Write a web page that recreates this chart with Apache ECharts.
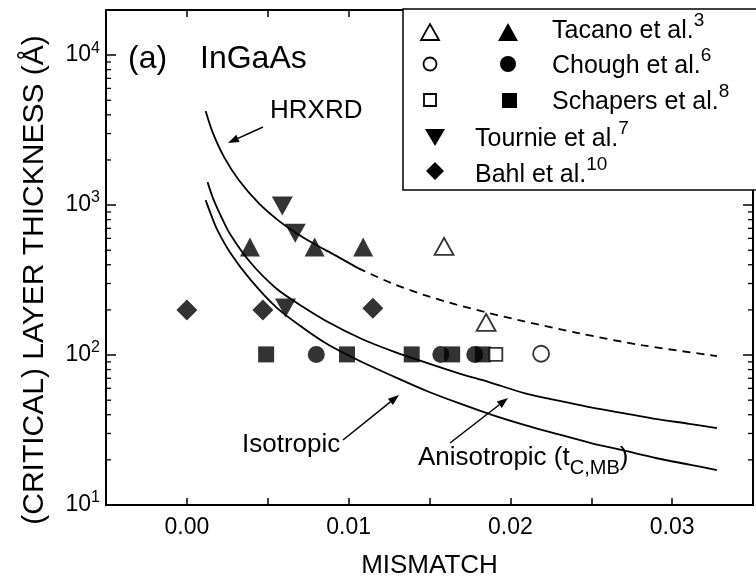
<!DOCTYPE html>
<html><head><meta charset="utf-8">
<script src="https://cdn.jsdelivr.net/npm/echarts@6/dist/echarts.min.js"></script>
<style>html,body{margin:0;padding:0;background:#fff}#c{width:756px;height:584px}</style>
</head><body><div id="c"></div>
<script>
const FONT = '"Liberation Sans", Arial, Helvetica, sans-serif';

// ---- axis ranges / ticks ----
const X_MIN = -0.005, X_MAX = 0.035, X_STEP = 0.005;
const Y_MIN = 10, Y_MAX = 20000;
const xTickLabels = {'0.00': '0.00', '0.01': '0.01', '0.02': '0.02', '0.03': '0.03'};
const yTickLabels = {10: '1', 100: '2', 1000: '3', 10000: '4'};
const yMinorTicks = [20,30,40,50,60,70,80,90,200,300,400,500,600,700,800,900,2000,3000,4000,5000,6000,7000,8000,9000];

// ---- data points [mismatch, thickness (Å)] ----
const tacanoOpen     = [[0.0159, 530], [0.0185, 165]];
const tacanoFilled   = [[0.0039, 525], [0.0079, 525], [0.0109, 525]];
const choughOpen     = [[0.0219, 102]];
const choughFilled   = [[0.0080, 101], [0.0157, 101], [0.0178, 101]];
const schapersOpen   = [[0.0191, 101]];
const schapersFilled = [[0.0049, 101], [0.0099, 101], [0.0139, 101], [0.0164, 101], [0.0183, 101]];
const tournie        = [[0.0059, 985], [0.0067, 650], [0.0061, 206]];
const bahl           = [[0.0000, 200], [0.0047, 200], [0.0115, 205]];

// ---- curves ----
const hrxrdSolid = [[0.00116,4236],[0.0016,3039],[0.00231,2080],[0.00322,1466],[0.00444,1031],[0.00565,791],
  [0.00675,652],[0.00778,558],[0.00918,462],[0.01058,380]];
const hrxrdDashed = [[0.01058,380],[0.01264,302],[0.01465,252],[0.01666,217],[0.01872,190],
  [0.02073,169],[0.0242,140],[0.02821,116],[0.03277,98.5]];
const anisotropic = [[0.00128,1423],[0.0016,1122],[0.00207,860],[0.00267,641],[0.00389,419],[0.00553,278],
  [0.00717,210],[0.00875,165.5],[0.01082,128],[0.01283,105],[0.01483,88.6],[0.01666,76.4],[0.01872,65.8],
  [0.02091,55.6],[0.02298,49.7],[0.02498,44.7],[0.02699,41.0],[0.02906,37.4],[0.03106,34.8],[0.03277,32.6]];
const isotropic = [[0.00116,1080],[0.0015,860],[0.00188,683],[0.00267,483],[0.00389,322],[0.00553,208],
  [0.00717,152],[0.00875,117],[0.01082,89.8],[0.01283,71.6],[0.01483,57.6],[0.0169,47.4],[0.0189,39.8],
  [0.02091,34.1],[0.02298,29.6],[0.02498,25.9],[0.02699,23.1],[0.02906,20.5],[0.03106,18.6],[0.03277,17.1]];

const chart = echarts.init(document.getElementById('c'), null, {renderer: 'canvas'});

const axLine = {show: true, onZero: false, lineStyle: {color: '#000', width: 2}};
function xLabel(v) { const s = (Math.round(v * 1000) / 1000).toFixed(2); return (Math.abs(v * 100 - Math.round(v * 100)) < 1e-6 && xTickLabels[s]) ? xTickLabels[s] : ''; }
function yLabel(v) { const e = yTickLabels[Math.round(v)]; return e ? '{b|10}{s|' + e + '}' : ''; }

const openStyle = {color: '#fff', borderColor: '#000', borderWidth: 1.8};
const fillStyle = {color: '#000'};
const INV_TRI = 'path://M0,0L20,0L10,18Z';

function scatter(name, data, symbol, size, style, z) {
  return {name, type: 'scatter', data, symbol, symbolSize: size, itemStyle: style, z: z || 4, silent: true};
}
function curve(name, data, dashed) {
  return {name, type: 'line', data, smooth: 0.3, showSymbol: false, symbol: 'none', silent: true, z: 3,
    lineStyle: {color: '#000', width: 1.8, type: dashed ? [8, 6] : 'solid'}};
}

function arrow(x1, y1, x2, y2) {
  const a = Math.atan2(y2 - y1, x2 - x1), L = 11, W = 4;
  const bx = x2 - L * Math.cos(a), by = y2 - L * Math.sin(a);
  return [
    {type: 'line', shape: {x1, y1, x2: bx, y2: by}, style: {stroke: '#000', lineWidth: 1.5}, z: 50},
    {type: 'polygon', shape: {points: [[x2, y2], [bx + W * Math.sin(a), by - W * Math.cos(a)], [bx - W * Math.sin(a), by + W * Math.cos(a)]]}, style: {fill: '#000'}, z: 50}
  ];
}
function txt(x, y, text, size, extra) {
  return Object.assign({type: 'text', x, y, z: 60, style: Object.assign({text, fontSize: size, fontFamily: FONT, fill: '#000', verticalAlign: 'middle', align: 'left'}, extra || {})});
}
const supRich = (big, small) => ({t: {fontSize: big, fontFamily: FONT, lineHeight: big + 14}, s: {fontSize: small, fontFamily: FONT, verticalAlign: 'top', lineHeight: small}});
function legendText(x, y, name, sup) {
  return {type: 'text', x, y, z: 60, style: {text: '{t|' + name + '}{s|' + sup + '}', rich: supRich(25, 19), fill: '#000', verticalAlign: 'middle', align: 'left'}};
}

const legend = [
  {type: 'rect', shape: {x: 403, y: 9, width: 420, height: 181}, style: {fill: '#fff', stroke: '#000', lineWidth: 1.5}, z: 55},
  {type: 'polygon', shape: {points: [[421, 40], [439, 40], [430, 24]]}, style: {fill: '#fff', stroke: '#000', lineWidth: 1.8}, z: 60},
  {type: 'polygon', shape: {points: [[498, 41], [518, 41], [508, 23]]}, style: {fill: '#000'}, z: 60},
  {type: 'circle', shape: {cx: 430, cy: 64, r: 6.5}, style: {fill: '#fff', stroke: '#000', lineWidth: 1.8}, z: 60},
  {type: 'circle', shape: {cx: 508, cy: 64, r: 8}, style: {fill: '#000'}, z: 60},
  {type: 'rect', shape: {x: 424, y: 94, width: 12, height: 12}, style: {fill: '#fff', stroke: '#000', lineWidth: 1.8}, z: 60},
  {type: 'rect', shape: {x: 502, y: 93, width: 15, height: 15}, style: {fill: '#000'}, z: 60},
  {type: 'polygon', shape: {points: [[425, 129], [445, 129], [435, 146]]}, style: {fill: '#000'}, z: 60},
  {type: 'polygon', shape: {points: [[435, 162], [444, 171], [435, 180], [426, 171]]}, style: {fill: '#000'}, z: 60},
  legendText(552, 31, 'Tacano et al.', '3'),
  legendText(552, 66, 'Chough et al.', '6'),
  legendText(552, 102, 'Schapers et al.', '8'),
  legendText(475, 139, 'Tournie et al.', '7'),
  legendText(475, 175, 'Bahl et al.', '10')
];

const annotations = [
  txt(128, 59, '(a)', 32),
  txt(200, 59, 'InGaAs', 32),
  txt(270, 111, 'HRXRD', 26),
  txt(242, 445, 'Isotropic', 26),
  {type: 'text', x: 418, y: 458, z: 60, style: {text: '{t|Anisotropic (t}{s|C,MB}{t|)}', fill: '#000', verticalAlign: 'middle', align: 'left',
    rich: {t: {fontSize: 26, fontFamily: FONT, lineHeight: 40}, s: {fontSize: 20, fontFamily: FONT, verticalAlign: 'bottom', lineHeight: 20}}}},
  {type: 'text', x: 35, y: 280, rotation: Math.PI / 2, z: 60, style: {text: '(CRITICAL) LAYER THICKNESS (\u00C5)', fontSize: 30, fontFamily: FONT, fill: '#000', align: 'center', verticalAlign: 'middle'}},
  ...arrow(263, 127, 228, 143),
  ...arrow(343, 440, 399, 395),
  ...arrow(450, 443, 508, 398)
];

const yAxisBase = {type: 'log', logBase: 10, min: Y_MIN, max: Y_MAX, axisLine: axLine,
  axisTick: {show: true, inside: true, length: 10, lineStyle: {color: '#000', width: 1.5}},
  splitLine: {show: false}, minorTick: {show: false}};
const xAxisBase = {type: 'value', min: X_MIN, max: X_MAX, interval: X_STEP, axisLine: axLine,
  axisTick: {show: true, inside: true, length: 7, lineStyle: {color: '#000', width: 1.5}}, splitLine: {show: false}};

chart.setOption({
  animation: false,
  backgroundColor: '#fff',
  textStyle: {fontFamily: FONT},
  grid: {left: 106, top: 10, right: -9, bottom: 78, containLabel: false},
  xAxis: [
    Object.assign({}, xAxisBase, {position: 'bottom',
      axisLabel: {formatter: xLabel, fontSize: 23, color: '#000', margin: 11, fontFamily: FONT},
      name: 'MISMATCH', nameLocation: 'middle', nameGap: 48, nameTextStyle: {fontSize: 26, color: '#000', fontFamily: FONT}}),
    Object.assign({}, xAxisBase, {position: 'top', axisLabel: {show: false}})
  ],
  yAxis: [
    Object.assign({}, yAxisBase, {position: 'left',
      axisLabel: {formatter: yLabel, color: '#000', margin: 6,
        rich: {b: {fontSize: 23, fontFamily: FONT, lineHeight: 30}, s: {fontSize: 16, fontFamily: FONT, verticalAlign: 'top', lineHeight: 16}}}}),
    Object.assign({}, yAxisBase, {position: 'right', axisLabel: {show: false}})
  ],
  series: [
    {type: 'custom', coordinateSystem: 'cartesian2d', silent: true, clip: false, z: 5,
      data: yMinorTicks.map(v => [X_MIN, v]),
      renderItem: (p, api) => {
        const v = api.value(1);
        const a = api.coord([X_MIN, v]), b = api.coord([X_MAX, v]);
        const st = {stroke: '#000', lineWidth: 1.3};
        return {type: 'group', children: [
          {type: 'line', shape: {x1: a[0], y1: a[1], x2: a[0] + 5, y2: a[1]}, style: st},
          {type: 'line', shape: {x1: b[0] - 5, y1: b[1], x2: b[0], y2: b[1]}, style: st}
        ]};
      }},
    curve('HRXRD', hrxrdSolid, false),
    curve('HRXRD extrapolated', hrxrdDashed, true),
    curve('Anisotropic', anisotropic, false),
    curve('Isotropic', isotropic, false),
    scatter('Schapers filled', schapersFilled, 'rect', 16, fillStyle),
    scatter('Chough filled', choughFilled, 'circle', 17, fillStyle),
    scatter('Schapers open', schapersOpen, 'rect', 13, openStyle, 6),
    scatter('Chough open', choughOpen, 'circle', 16, openStyle, 6),
    scatter('Tacano filled', tacanoFilled, 'triangle', [20, 19], fillStyle),
    scatter('Tacano open', tacanoOpen, 'triangle', [19, 17], openStyle, 6),
    scatter('Tournie', tournie, INV_TRI, [21, 19], fillStyle),
    scatter('Bahl', bahl, 'diamond', [21, 21], fillStyle)
  ],
  graphic: [...legend, ...annotations]
});
</script></body></html>
